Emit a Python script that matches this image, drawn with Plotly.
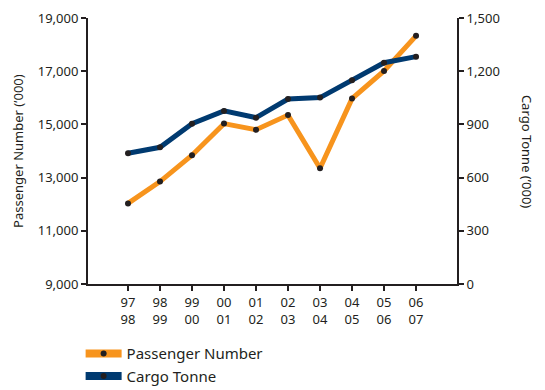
import plotly.graph_objects as go

years = ["97<br>98", "98<br>99", "99<br>00", "00<br>01", "01<br>02",
         "02<br>03", "03<br>04", "04<br>05", "05<br>06", "06<br>07"]
passenger = [12030, 12850, 13840, 15030, 14800, 15350, 13350, 15970, 17010, 18330]
cargo = [737, 771, 904, 976, 938, 1043, 1051, 1149, 1248, 1282]

ORANGE = "#F7941D"
NAVY = "#003A70"
INK = "#231F20"
FONT = "Noto Sans"

idx = list(range(len(years)))

fig = go.Figure()
fig.add_trace(go.Scatter(
    x=idx, y=cargo, yaxis="y2", mode="lines+markers", showlegend=False,
    line=dict(color=NAVY, width=5), marker=dict(color=INK, size=6),
))
fig.add_trace(go.Scatter(
    x=idx, y=passenger, mode="lines+markers", showlegend=False,
    line=dict(color=ORANGE, width=5), marker=dict(color=INK, size=6),
))
# legend entries with heavier swatches
fig.add_trace(go.Scatter(
    x=[None], y=[None], mode="lines+markers", name="Passenger Number",
    line=dict(color=ORANGE, width=8), marker=dict(color=INK, size=6),
))
fig.add_trace(go.Scatter(
    x=[None], y=[None], mode="lines+markers", name="Cargo Tonne",
    line=dict(color=NAVY, width=8), marker=dict(color=INK, size=6),
))

axis_common = dict(
    showline=True, linecolor=INK, linewidth=2, ticks="outside",
    ticklen=5, tickwidth=2, tickcolor=INK, showgrid=False, zeroline=False,
    tickfont=dict(size=13), automargin=False,
)

fig.update_layout(
    width=545, height=390,
    margin=dict(l=88, r=88, t=18, b=106, autoexpand=False),
    paper_bgcolor="white", plot_bgcolor="white",
    font=dict(family=FONT, color=INK, size=13),
    xaxis=dict(range=[-1.25, 10.28], tickmode="array", tickvals=idx,
               ticktext=years, **axis_common),
    yaxis=dict(range=[9000, 19000],
               tickvals=[9000, 11000, 13000, 15000, 17000, 19000],
               tickformat=",", **axis_common),
    yaxis2=dict(range=[0, 1500], tickvals=[0, 300, 600, 900, 1200, 1500],
                tickformat=",", overlaying="y", side="right", **axis_common),
    legend=dict(
        x=-0.02, xanchor="left", y=0.135, yanchor="top", yref="container",
        orientation="v", font=dict(size=15, color=INK),
        bgcolor="rgba(0,0,0,0)", itemwidth=36,
    ),
    annotations=[
        dict(text="Passenger Number (’000)", xref="paper", yref="paper",
             x=-0.19, y=0.5, xanchor="center", yanchor="middle",
             textangle=-90, showarrow=False, font=dict(size=13, color=INK)),
        dict(text="Cargo Tonne (’000)", xref="paper", yref="paper",
             x=1.19, y=0.5, xanchor="center", yanchor="middle",
             textangle=90, showarrow=False, font=dict(size=13, color=INK)),
    ],
)

fig.write_html("out.html")
